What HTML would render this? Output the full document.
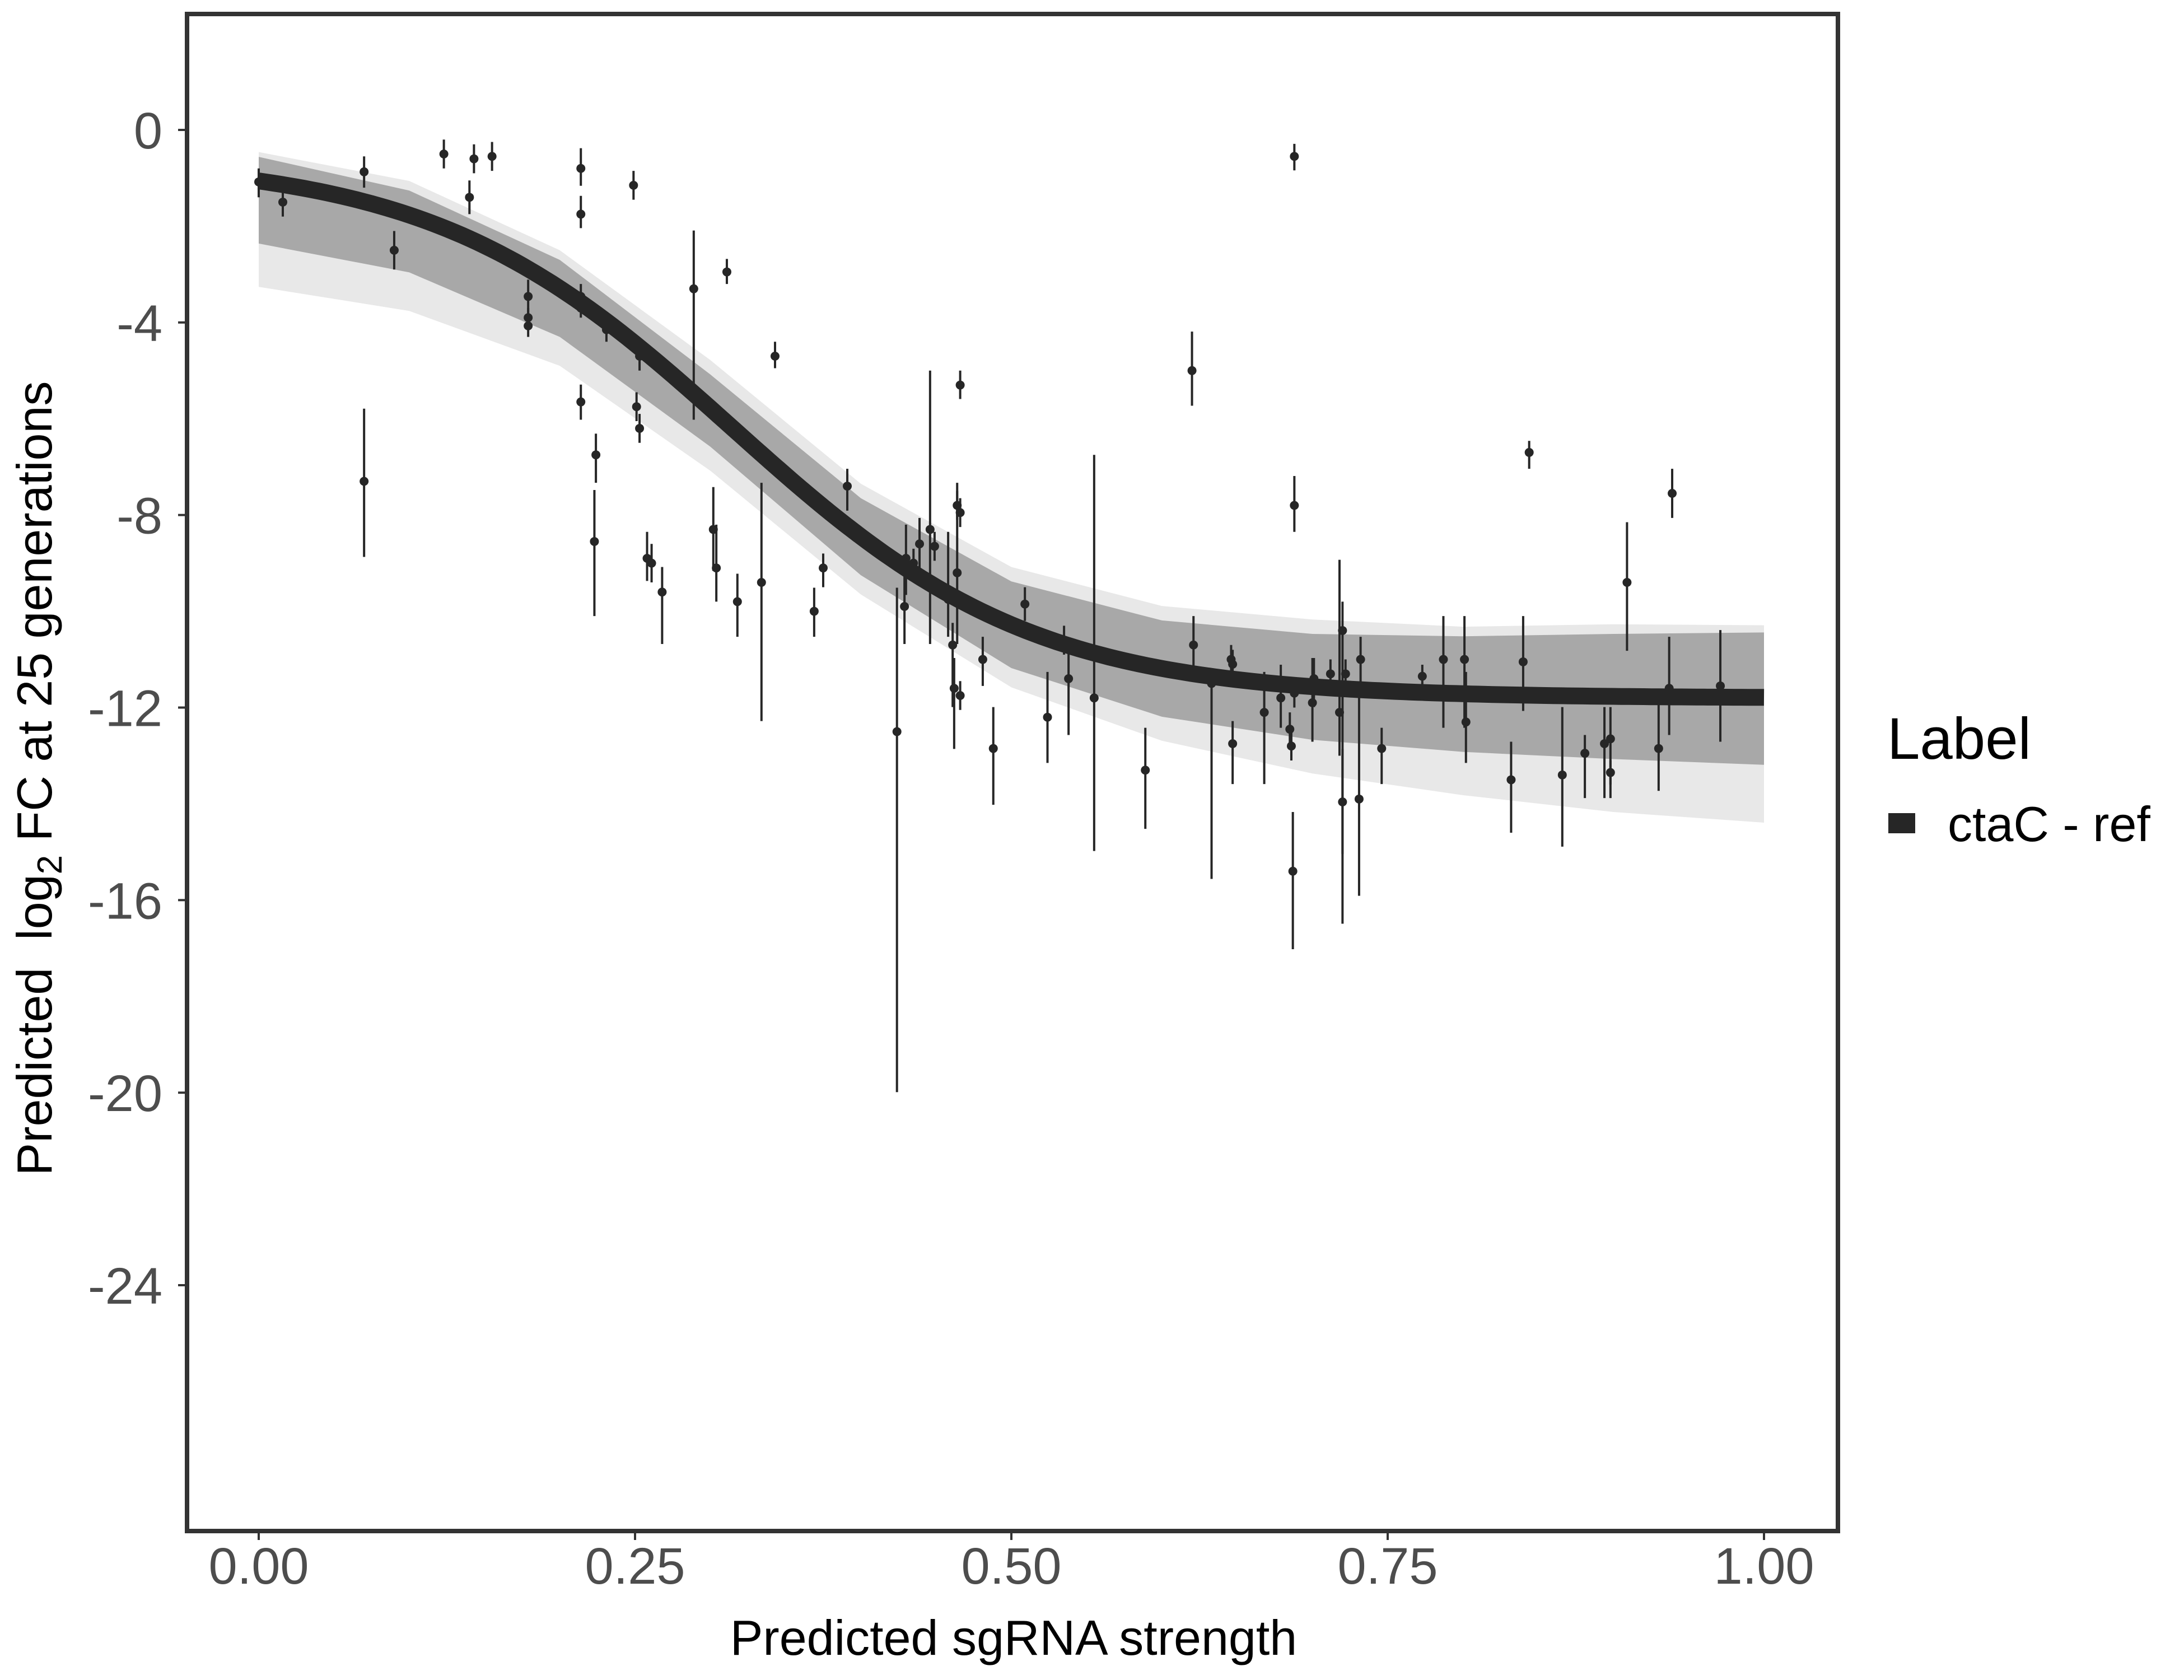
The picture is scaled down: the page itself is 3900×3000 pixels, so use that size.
<!DOCTYPE html>
<html><head><meta charset="utf-8">
<style>
html,body{margin:0;padding:0;background:#fff;}
svg{display:block;font-family:"Liberation Sans",sans-serif;}
</style></head>
<body>
<svg id="chart" width="3900" height="3000" viewBox="0 0 3900 3000" xmlns="http://www.w3.org/2000/svg">
<rect x="0" y="0" width="3900" height="3000" fill="#fff"/>
<g id="bands"></g>
<g id="bars"></g>
<g id="pts"></g>
<path id="fit" fill="none" stroke="#262626" stroke-width="30" stroke-linecap="butt"/>
<rect x="334" y="25" width="2948" height="2709" fill="none" stroke="#333" stroke-width="8"/>
<g id="xaxis"></g>
<g id="yaxis"></g>
<text x="1810" y="2955" font-size="88" text-anchor="middle" fill="#000">Predicted sgRNA strength</text>
<text transform="translate(92,1390) rotate(-90)" font-size="88" text-anchor="middle" fill="#000" xml:space="preserve">Predicted  log<tspan font-size="62" dy="18">2</tspan><tspan dy="-18"> FC at 25 generations</tspan></text>
<g>
<text x="3370" y="1355" font-size="105" fill="#000">Label</text>
<rect x="3372" y="1452" width="48" height="36" fill="#262626"/>
<text x="3478" y="1502" font-size="88" fill="#000">ctaC - ref</text>
</g>
</svg>
<script>
const xTicks=[0,0.25,0.5,0.75,1];
const xTickLabels=["0.00","0.25","0.50","0.75","1.00"];
const yTicks=[0,-4,-8,-12,-16,-20,-24];
const yTickLabels=["0","-4","-8","-12","-16","-20","-24"];
const bandX=[0,0.1,0.2,0.3,0.4,0.5,0.6,0.7,0.8,0.9,1.0];
const outerUpper=[-0.46,-1.06,-2.5,-4.78,-7.35,-9.08,-9.89,-10.17,-10.32,-10.27,-10.29];
const outerLower=[-3.26,-3.76,-4.9,-7.08,-9.65,-11.58,-12.69,-13.37,-13.82,-14.17,-14.39];
const innerUpper=[-0.56,-1.26,-2.7,-5.08,-7.65,-9.38,-10.19,-10.47,-10.52,-10.47,-10.44];
const innerLower=[-2.36,-2.96,-4.3,-6.58,-9.25,-11.18,-12.19,-12.67,-12.92,-13.07,-13.19];
const fitUpper=-0.6, fitLower=-11.8, fitMid=0.315, fitSlope=10;
const ptX=[0.0,0.016,0.07,0.07,0.09,0.123,0.14,0.143,0.155,0.179,0.179,0.179,0.214,0.214,0.214,0.214,0.214,0.224,0.223,0.231,0.249,0.253,0.251,0.253,0.258,0.261,0.268,0.289,0.302,0.304,0.311,0.318,0.334,0.343,0.369,0.375,0.391,0.424,0.429,0.430,0.435,0.439,0.446,0.449,0.458,0.461,0.462,0.464,0.464,0.466,0.466,0.466,0.481,0.488,0.509,0.524,0.535,0.538,0.555,0.589,0.620,0.621,0.633,0.646,0.647,0.647,0.668,0.679,0.685,0.686,0.687,0.688,0.688,0.688,0.700,0.701,0.712,0.718,0.720,0.720,0.722,0.731,0.732,0.746,0.773,0.787,0.801,0.802,0.832,0.840,0.844,0.866,0.881,0.894,0.898,0.898,0.909,0.930,0.937,0.939,0.971];
const ptY=[-1.08,-1.5,-0.87,-7.3,-2.5,-0.5,-1.4,-0.6,-0.55,-3.46,-3.9,-4.07,-0.8,-1.75,-3.46,-3.7,-5.65,-6.75,-8.55,-4.15,-1.15,-4.7,-5.75,-6.2,-8.9,-9.0,-9.6,-3.3,-8.3,-9.1,-2.95,-9.8,-9.4,-4.7,-10.0,-9.1,-7.4,-12.5,-9.9,-8.9,-9.0,-8.6,-8.3,-8.65,-9.75,-10.7,-11.6,-9.2,-7.8,-5.3,-7.95,-11.75,-11.0,-12.85,-9.85,-12.2,-10.6,-11.4,-11.8,-13.3,-5.0,-10.7,-11.5,-11.0,-11.1,-12.75,-12.1,-11.8,-12.45,-12.8,-15.4,-0.55,-7.8,-11.7,-11.9,-11.4,-11.3,-12.1,-10.4,-13.96,-11.3,-13.9,-11.0,-12.85,-11.35,-11.0,-11.0,-12.3,-13.5,-11.05,-6.7,-13.4,-12.95,-12.75,-12.65,-13.35,-9.4,-12.85,-11.6,-7.55,-11.55];
const ptHi=[-0.8,-1.2,-0.55,-5.79,-2.1,-0.2,-1.05,-0.3,-0.25,-3.11,-3.7,-3.85,-0.38,-1.37,-3.2,-3.5,-5.29,-6.31,-7.48,-3.9,-0.85,-4.4,-5.45,-5.9,-8.35,-8.6,-9.08,-2.09,-7.42,-8.2,-2.68,-9.22,-7.33,-4.4,-9.51,-8.8,-7.04,-9.51,-9.22,-8.2,-8.7,-8.06,-5.0,-8.35,-8.35,-10.24,-10.97,-7.33,-7.5,-5.0,-7.65,-11.45,-10.53,-11.99,-9.5,-11.26,-10.3,-10.68,-6.75,-12.42,-4.19,-10.1,-11.26,-10.7,-10.8,-12.28,-11.26,-11.11,-12.1,-12.5,-14.17,-0.29,-7.19,-11.4,-10.97,-10.97,-11.0,-8.93,-9.8,-12.86,-11.0,-11.69,-10.53,-12.42,-11.11,-10.1,-10.1,-11.26,-12.71,-10.1,-6.46,-11.99,-12.57,-11.99,-11.99,-13.1,-8.15,-11.69,-10.53,-7.04,-10.39];
const ptLo=[-1.4,-1.8,-1.2,-8.87,-2.9,-0.8,-1.75,-0.9,-0.85,-3.84,-4.1,-4.3,-1.16,-2.04,-3.7,-3.9,-6.02,-7.33,-10.1,-4.4,-1.45,-5.0,-6.05,-6.5,-9.37,-9.4,-10.68,-6.02,-9.16,-9.8,-3.2,-10.53,-12.28,-4.95,-10.53,-9.5,-7.91,-19.99,-10.68,-9.66,-9.3,-9.37,-10.68,-8.95,-10.53,-11.99,-12.86,-10.68,-8.1,-5.59,-8.25,-12.05,-11.55,-14.02,-10.2,-13.15,-10.9,-12.57,-14.98,-14.52,-5.73,-11.4,-15.56,-11.3,-11.4,-13.59,-13.59,-12.42,-12.8,-13.1,-17.02,-0.84,-8.35,-12.0,-12.71,-11.99,-11.6,-13.0,-16.49,-15.04,-11.6,-15.91,-11.55,-13.59,-11.55,-12.42,-12.42,-13.15,-14.6,-12.07,-7.04,-14.89,-13.88,-13.88,-13.88,-13.6,-10.82,-13.73,-12.57,-8.06,-12.71];

const NS="http://www.w3.org/2000/svg";
const X0=462,X1=3150,Y0=232,YPER=(2295-232)/24;
function sx(v){return X0+(X1-X0)*v;}
function sy(v){return Y0-v*YPER;}
function mk(tag,attrs,parent){const e=document.createElementNS(NS,tag);for(const k in attrs)e.setAttribute(k,attrs[k]);parent.appendChild(e);return e;}
function bandPath(up,lo){let d="";for(let i=0;i<bandX.length;i++)d+=(i?"L":"M")+sx(bandX[i])+","+sy(up[i]);for(let i=bandX.length-1;i>=0;i--)d+="L"+sx(bandX[i])+","+sy(lo[i]);return d+"Z";}
const bands=document.getElementById('bands');
const ob=mk('path',{d:bandPath(outerUpper,outerLower),fill:'#e8e8e8','stroke-linejoin':'round'},bands);


const ib=mk('path',{d:bandPath(innerUpper,innerLower),fill:'#a8a8a8'},bands);


let d="";
for(let i=0;i<=200;i++){const x=i/200;const y=fitLower+(fitUpper-fitLower)/(1+Math.exp(fitSlope*(x-fitMid)));d+=(i?"L":"M")+sx(x).toFixed(1)+","+sy(y).toFixed(1);}
document.getElementById('fit').setAttribute('d',d);
const bars=document.getElementById('bars'),pts=document.getElementById('pts');
for(let i=0;i<ptX.length;i++){
 const l=mk('line',{x1:sx(ptX[i]),x2:sx(ptX[i]),y1:sy(ptHi[i]),y2:sy(ptLo[i]),stroke:'#262626','stroke-width':4},bars);
 
 
 const c=mk('circle',{cx:sx(ptX[i]),cy:sy(ptY[i]),r:8,fill:'#262626'},pts);
 
 
}
const xa=document.getElementById('xaxis');
for(let i=0;i<xTicks.length;i++){
 const t=mk('line',{x1:sx(xTicks[i]),x2:sx(xTicks[i]),y1:2738,y2:2750,stroke:'#333','stroke-width':4},xa);
 
 
 const tx=mk('text',{x:sx(xTicks[i]),y:2828,'font-size':92,'text-anchor':'middle',fill:'#4d4d4d'},xa);
 tx.textContent=xTickLabels[i];
 
 
}
const ya=document.getElementById('yaxis');
for(let i=0;i<yTicks.length;i++){
 const t=mk('line',{x1:318,x2:330,y1:sy(yTicks[i]),y2:sy(yTicks[i]),stroke:'#333','stroke-width':4},ya);
 
 
 const tx=mk('text',{x:290,y:sy(yTicks[i])+33,'font-size':92,'text-anchor':'end',fill:'#4d4d4d'},ya);
 tx.textContent=yTickLabels[i];
 
 
}
</script>
</body></html>
